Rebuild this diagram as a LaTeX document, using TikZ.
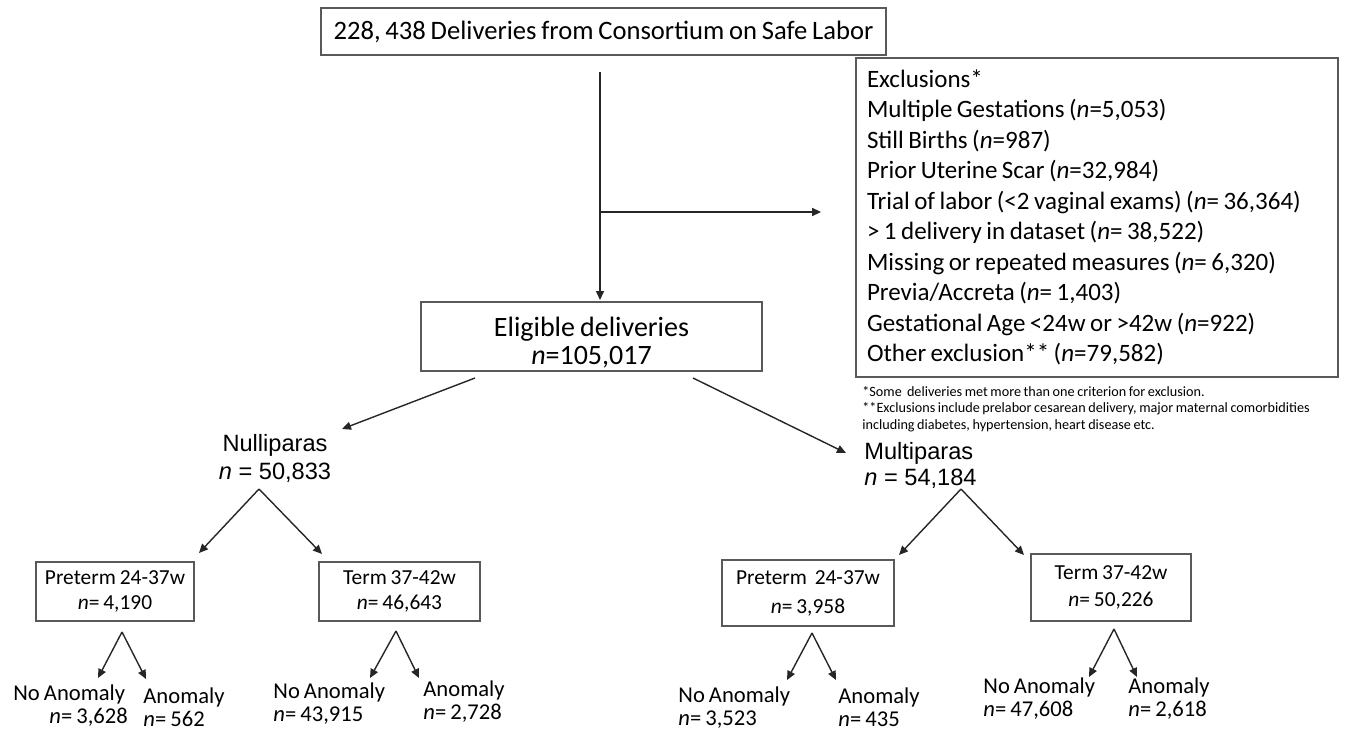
\documentclass[tikz,border=0pt]{standalone}
\usepackage{fontspec}
\setmainfont{Carlito}[WordSpace=0.8]
\newfontfamily\arialfont{Liberation Sans}
\usetikzlibrary{arrows.meta,calc}

\begin{document}
\begin{tikzpicture}[x=0.5pt,y=-0.5pt,
  box/.style={draw=black!65,line width=0.9pt,align=center,inner sep=0pt},
  txt/.style={inner sep=0pt,align=left,font=\fontsize{11.3}{11.5}\selectfont},
  arr/.style={draw=black!85,line width=0.7pt,-{Triangle[length=4.5pt,width=4pt]}}]
\useasboundingbox (0,0) rectangle (1345,730);

% top level
\node[box,minimum width=282.5pt,minimum height=23.5pt,font=\fontsize{13.3}{14}\selectfont]
  (csl) at (603.5,31.5) {228, 438 Deliveries from Consortium on Safe Labor};
\node[box,minimum width=170.5pt,minimum height=34.5pt,font=\fontsize{14}{14}\selectfont]
  (elig) at (591.5,336.5) {\rule{0pt}{15.5pt}Eligible deliveries\\ \textit{n}=105,017};
\node[draw=black!65,line width=0.9pt,align=flush left,inner xsep=5.5pt,inner ysep=0pt,
  text width=230pt,minimum height=159.5pt,font=\fontsize{12.5}{15.25}\selectfont]
  (excl) at (1097,217.5) {Exclusions*\\
  Multiple Gestations (\textit{n}=5,053)\\
  Still Births (\textit{n}=987)\\
  Prior Uterine Scar (\textit{n}=32,984)\\
  Trial of labor (<2 vaginal exams) (\textit{n}= 36,364)\\
  > 1 delivery in dataset (\textit{n}= 38,522)\\
  Missing or repeated measures (\textit{n}= 6,320)\\
  Previa/Accreta (\textit{n}= 1,403)\\
  Gestational Age <24w or >42w (\textit{n}=922)\\
  Other exclusion** (\textit{n}=79,582)};
\node[txt,anchor=north west,font=\fontsize{7.1}{8.25}\selectfont]
  (note) at (862,386) {*Some \ deliveries met more than one criterion for exclusion.\\
  **Exclusions include prelabor cesarean delivery, major maternal comorbidities\\
  including diabetes, hypertension, heart disease etc.};

% parity
\node[txt,align=center,font=\arialfont\fontsize{11.8}{14}\selectfont]
  (nulli) at (275,458) {Nulliparas\\ \textit{n} = 50,833};
\node[txt,anchor=west,font=\arialfont\fontsize{11.8}{13}\selectfont]
  (multi) at (864,465) {Multiparas\\ \textit{n} = 54,184};

% gestational age
\node[box,minimum width=79pt,minimum height=29.5pt,font=\fontsize{10.7}{12.5}\selectfont]
  (npt) at (115,591.5) {Preterm 24-37w\\ \textit{n}= 4,190};
\node[box,minimum width=80.5pt,minimum height=29.5pt,font=\fontsize{10.7}{12.5}\selectfont]
  (nt) at (399.5,591.5) {Term 37-42w\\ \textit{n}= 46,643};
\node[box,minimum width=86pt,minimum height=33pt,font=\fontsize{10.7}{14.5}\selectfont]
  (mpt) at (808,593) {Preterm \ 24-37w\\ \textit{n}= 3,958};
\node[box,minimum width=80pt,minimum height=33.5pt,font=\fontsize{10.7}{13.5}\selectfont]
  (mt) at (1111,587.5) {Term 37-42w\\ \textit{n}= 50,226};

% anomaly
\node[txt,anchor=west] (nptno) at (13,706) {No Anomaly\\ \hspace*{18pt}\textit{n}= 3,628};
\node[txt,anchor=west] (nptan) at (143,707.5) {Anomaly\\ \textit{n}= 562};
\node[txt,anchor=west] (ntno) at (273,703.5) {No Anomaly\\ \textit{n}= 43,915};
\node[txt,anchor=west] (ntan) at (423,701.5) {Anomaly\\ \textit{n}= 2,728};
\node[txt,anchor=west] (mptno) at (678,707.5) {No Anomaly\\ \textit{n}= 3,523};
\node[txt,anchor=west] (mptan) at (838,707) {Anomaly\\ \textit{n}= 435};
\node[txt,anchor=west] (mtno) at (983,698.5) {No Anomaly\\ \textit{n}= 47,608};
\node[txt,anchor=west] (mtan) at (1128,698.5) {Anomaly\\ \textit{n}= 2,618};

% connectors
\coordinate (split) at ($(csl)+(-3.5,180.5)$);
\draw[arr] ($(csl)+(-3.5,40.5)$) -- ($(elig)+(8.5,-36.5)$);
\draw[arr] (split) -- ($(excl.west)+(-34,-5.5)$);
\draw[arr] ($(elig)+(-116.5,41.5)$) -- ($(nulli)+(67,-29)$);
\draw[arr] ($(elig)+(101.5,41.5)$) -- ($(multi.west)+(-18,-12)$);

\draw[arr] ($(nulli)+(-16,31)$) -- ($(npt)+(84,-38.5)$);
\draw[arr] ($(nulli)+(-16,31)$) -- ($(nt)+(-77.5,-37.5)$);
\draw[arr] ($(multi.west)+(97,24)$) -- ($(mpt)+(91,-38)$);
\draw[arr] ($(multi.west)+(97,24)$) -- ($(mt)+(-87,-32.5)$);

\draw[arr] ($(npt)+(7,40.5)$) -- ($(nptno.west)+(85,-28)$);
\draw[arr] ($(npt)+(7,40.5)$) -- ($(nptan.west)+(3,-28.5)$);
\draw[arr] ($(nt)+(-3.5,39.5)$) -- ($(ntno.west)+(97,-25.5)$);
\draw[arr] ($(nt)+(-3.5,39.5)$) -- ($(ntan.west)+(-4,-23.5)$);
\draw[arr] ($(mpt)+(4,40)$) -- ($(mptno.west)+(109,-27.5)$);
\draw[arr] ($(mpt)+(4,40)$) -- ($(mptan.west)+(-2,-27)$);
\draw[arr] ($(mt)+(3,41.5)$) -- ($(mtno.west)+(106,-21.5)$);
\draw[arr] ($(mt)+(3,41.5)$) -- ($(mtan.west)+(9,-21.5)$);
\end{tikzpicture}
\end{document}
